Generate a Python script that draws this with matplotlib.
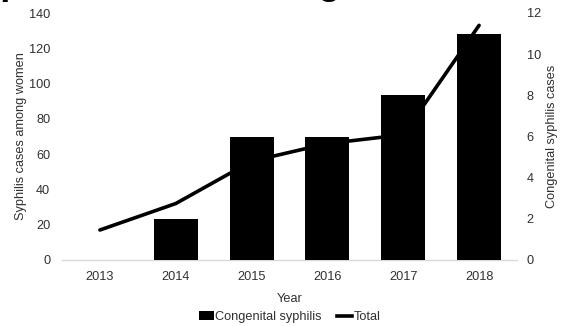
import matplotlib
matplotlib.use("Agg")
import matplotlib.pyplot as plt
from matplotlib.patches import Patch
from matplotlib.lines import Line2D

plt.rcParams["font.family"] = ["Liberation Sans", "DejaVu Sans"]

years = ["2013", "2014", "2015", "2016", "2017", "2018"]
congenital_cases = [0, 2, 6, 6, 8, 11]
total_women = [17, 32, 56, 66, 71, 133]
left_ticks = [0, 20, 40, 60, 80, 100, 120, 140]
right_ticks = [0, 2, 4, 6, 8, 10, 12]

W, H = 569, 326
FS = 9.2
fig = plt.figure(figsize=(W / 100, H / 100), dpi=100)
ax = fig.add_axes([62 / W, 1 - 260 / H, (517 - 62) / W, (260 - 13) / H])
ax2 = ax.twinx()

text_color = "#303030"
x = list(range(len(years)))

# total cases among women (left axis), drawn underneath the bars
ax.plot(x, total_women, color="black", lw=2.6, solid_capstyle="round", zorder=2)
ax.set_ylim(0, 140)
ax.set_yticks(left_ticks)
ax.set_xlim(-0.5, len(years) - 0.5)
ax.set_xticks(x)
ax.set_xticklabels(years)

# congenital syphilis bars (right axis)
ax2.bar(x, congenital_cases, width=0.58, color="black", zorder=3)
ax2.set_ylim(0, 12)
ax2.set_yticks(right_ticks)

for a in (ax, ax2):
    for s in a.spines.values():
        s.set_visible(False)
    a.tick_params(length=0, labelsize=FS, colors=text_color)
ax.spines["bottom"].set_visible(True)
ax.spines["bottom"].set_color("#d9d9d9")
ax.spines["bottom"].set_linewidth(1.0)
ax.tick_params(axis="y", pad=8.5)
ax.tick_params(axis="x", pad=8)
ax2.tick_params(axis="y", pad=7)

fig.text(21 / W, 1 - 136.5 / H, "Syphilis cases among women", rotation=90,
         ha="center", va="center", fontsize=FS, color=text_color)
fig.text(552 / W, 1 - 136.5 / H, "Congenital syphilis cases", rotation=90,
         ha="center", va="center", fontsize=FS, color=text_color)
fig.text(289.5 / W, 1 - 299 / H, "Year", ha="center", va="center",
         fontsize=FS, color=text_color)

# chart title, sitting above the canvas edge
fig.text(-45 / W, 1 + 6.5 / H, "Syphilis cases among women and congenital syphilis",
         ha="left", va="baseline", fontsize=26.6, fontweight="bold", color="black")

handles = [Patch(facecolor="black", edgecolor="none"),
           Line2D([0], [0], color="black", lw=2.6)]
fig.legend(handles, ["Congenital syphilis", "Total"], loc="center",
           bbox_to_anchor=(289.5 / W, 1 - 317 / H), ncol=2, frameon=False,
           fontsize=FS, handlelength=1.2, handleheight=0.6, handletextpad=0.1,
           columnspacing=1.2, labelcolor=text_color)

fig.savefig("out.png", dpi=100)
